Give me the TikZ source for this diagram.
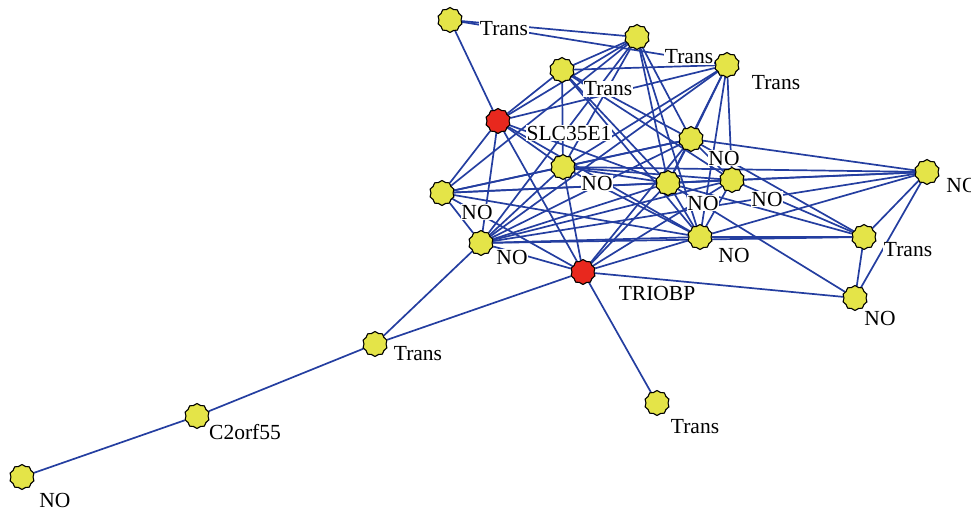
\documentclass[tikz,border=0pt]{standalone}
\usepackage{fontspec}
\setmainfont{Liberation Serif}
\usetikzlibrary{shapes.geometric,backgrounds}
\definecolor{edgeblue}{RGB}{36,62,160}
\definecolor{geneyellow}{RGB}{228,228,72}
\definecolor{genered}{RGB}{232,40,30}
\tikzset{
  gene/.style={star, star points=10, star point ratio=1.13, minimum size=25pt, inner sep=0pt,
    draw=black, line width=1.1pt, fill=geneyellow},
  hub/.style={gene, fill=genered},
  lbl/.style={fill=white, inner sep=0.5pt, font=\fontsize{21.5}{25}\selectfont},
  link/.style={draw=edgeblue, line width=1.7pt}
}
\begin{document}
\begin{tikzpicture}[x=1pt,y=1pt]
\useasboundingbox (0,0) rectangle (971,514);
% nodes
\node[gene] (A) at (450,494) {};
\node[gene] (B) at (637,477) {};
\node[gene] (C) at (727,449) {};
\node[gene] (D) at (562,444) {};
\node[hub]  (E) at (498,393) {};
\node[gene] (F) at (691,375) {};
\node[gene] (G) at (563,347) {};
\node[gene] (H) at (442,321) {};
\node[gene] (I) at (668,331) {};
\node[gene] (J) at (732,334) {};
\node[gene] (K) at (927,342) {};
\node[gene] (L) at (481,271) {};
\node[gene] (M) at (700,277) {};
\node[hub]  (N) at (583,242) {};
\node[gene] (O) at (864,277) {};
\node[gene] (P) at (855,216) {};
\node[gene] (Q) at (375,170) {};
\node[gene] (R) at (197,98) {};
\node[gene] (S) at (22,37) {};
\node[gene] (T) at (657,111) {};
% edges
\begin{scope}[on background layer]
\foreach \u/\v in {A/E,A/B,A/C,
  B/D,B/E,B/G,B/F,B/I,B/M,B/L,B/H,
  C/D,C/E,C/F,C/I,C/J,C/G,C/L,C/M,
  D/E,D/G,D/I,D/F,D/J,D/M,
  E/H,E/L,E/N,E/G,E/I,E/M,
  F/G,F/H,F/I,F/K,F/L,F/N,F/J,F/O,
  G/H,G/I,G/J,G/L,G/N,G/M,G/K,
  H/I,H/L,H/N,H/J,H/M,
  I/J,I/K,I/L,I/M,I/N,I/O,I/P,
  J/K,J/L,J/O,J/M,J/N,
  K/M,K/O,K/P,K/L,
  L/M,L/O,L/N,L/Q,
  M/O,M/N,
  N/P,N/Q,N/T,
  O/P,Q/R,R/S}
  \draw[link] (\u) -- (\v);
\end{scope}
% labels
\node[lbl] (lA) at (504,485) {Trans};
\node[lbl] (lB) at (689,457) {Trans};
\node[lbl] (lC) at (776,431) {Trans};
\node[lbl] (lD) at (608,425) {Trans};
\node[lbl] (lE) at (569,381) {SLC35E1};
\node[lbl] (lF) at (724,356) {NO};
\node[lbl] (lG) at (597,331) {NO};
\node[lbl] (lH) at (477,302) {NO};
\node[lbl] (lI) at (703,311) {NO};
\node[lbl] (lJ) at (767,315) {NO};
\node[lbl] (lK) at (962,329) {NO};
\node[lbl] (lL) at (512,257) {NO};
\node[lbl] (lM) at (734,259) {NO};
\node[lbl] (lN) at (657,221) {TRIOBP};
\node[lbl] (lO) at (908,264) {Trans};
\node[lbl] (lP) at (880,196) {NO};
\node[lbl] (lQ) at (418,160) {Trans};
\node[lbl] (lR) at (245,82) {C2orf55};
\node[lbl] (lS) at (55,14) {NO};
\node[lbl] (lT) at (695,87) {Trans};
\end{tikzpicture}
\end{document}
